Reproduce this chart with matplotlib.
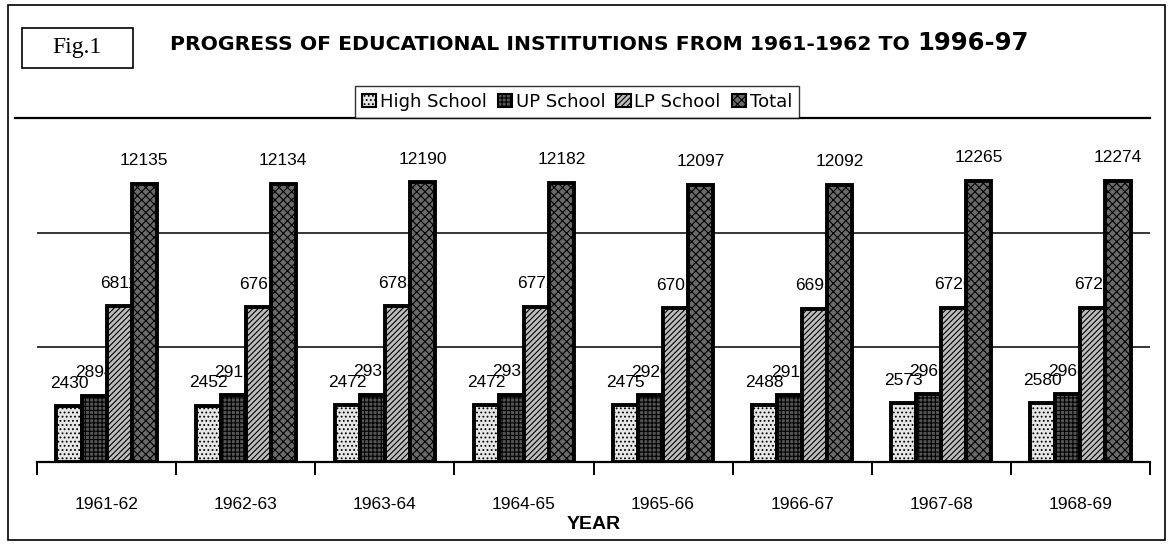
import matplotlib.pyplot as plt
import numpy as np
from matplotlib.patches import Rectangle

plt.rcParams['font.family'] = ['Liberation Sans', 'DejaVu Sans']
plt.rcParams['hatch.linewidth'] = 0.8

# data
years = ['1961-62', '1962-63', '1963-64', '1964-65', '1965-66', '1966-67', '1967-68', '1968-69']
high_school = [2430, 2452, 2472, 2472, 2475, 2488, 2573, 2580]
up_school = [2894, 2915, 2935, 2938, 2920, 2911, 2966, 2968]
lp_school = [6811, 6767, 6783, 6772, 6702, 6693, 6726, 6726]
total = [12135, 12134, 12190, 12182, 12097, 12092, 12265, 12274]
series_names = ['High School', 'UP School', 'LP School', 'Total']

series = [high_school, up_school, lp_school, total]
faces = ['#e6e6e6', '#555555', '#bdbdbd', '#6a6a6a']
hatches = ['....', '++++', '//////', 'xxxx']

W, H = 1176, 547
fig = plt.figure(figsize=(W / 100, H / 100), dpi=100)
ax = fig.add_axes([37 / W, 1 - 462 / H, (1150 - 37) / W, (462 - 118) / H])

x = np.arange(len(years))
width = 0.18
offsets = [-1.5, -0.5, 0.5, 1.5]
handles = []
for i, (vals, off) in enumerate(zip(series, offsets)):
    bars = ax.bar(x + off * width, vals, width, color=faces[i], hatch=hatches[i],
                  edgecolor='black', linewidth=2.8, zorder=3 + 2 * i,
                  label=series_names[i])
    handles.append(bars)
    # labels drawn under the next series' bars, as in the scan
    for xi, v in zip(x, vals):
        ax.annotate('{}'.format(v), (xi + off * width, v), textcoords='offset points',
                    xytext=(0, 11), ha='center', va='bottom', fontsize=12.5,
                    zorder=4 + 2 * i)

ax.set_xlim(-0.5, len(years) - 0.5)
ax.set_ylim(0, 15000)

# gridlines
for g in [5000, 10000]:
    ax.axhline(g, color='black', linewidth=1.1, zorder=1)

for s in ['top', 'right', 'left']:
    ax.spines[s].set_visible(False)
ax.spines['bottom'].set_linewidth(1.6)
ax.set_yticks([])

# ticks at category boundaries, labels at centers
ax.set_xticks(np.arange(-0.5, len(years)), labels=[])
ax.tick_params(axis='x', which='major', length=9, width=1.4, direction='out')
ax.set_xticks(x, minor=True)
ax.set_xticklabels(years, minor=True, fontsize=12.5)
ax.tick_params(axis='x', which='minor', length=0, pad=25)

ax.set_xlabel('YEAR', fontsize=14, fontweight='bold', labelpad=3)

# top line of the plot region
fig.add_artist(plt.Line2D([15 / W, 1150 / W], [1 - 118 / H, 1 - 118 / H],
                          color='black', linewidth=1.6))

# outer frame
fig.add_artist(Rectangle((8 / W, 1 - 540 / H), (1165 - 8) / W, (540 - 5) / H,
                         transform=fig.transFigure, fill=False,
                         edgecolor='black', linewidth=1.2))

# Fig.1 box
fig.add_artist(Rectangle((22 / W, 1 - 68 / H), (133 - 22) / W, (68 - 28) / H,
                         transform=fig.transFigure, fill=False,
                         edgecolor='black', linewidth=1.2))
fig.text(77 / W, 1 - 48 / H, 'Fig.1', ha='center', va='center', fontsize=17,
         family=['Liberation Serif', 'DejaVu Serif'])

# title, last part a bit larger
t1 = fig.text(170 / W, 1 - 45 / H, 'PROGRESS OF EDUCATIONAL INSTITUTIONS FROM 1961-1962 TO ',
              ha='left', va='center', fontsize=14.7, fontweight='bold',
              family='DejaVu Sans')
fig.canvas.draw()
bb = t1.get_window_extent()
fig.text(bb.x1 / W, 1 - 43 / H, '1996-97', ha='left', va='center',
         fontsize=17.5, fontweight='bold', family='DejaVu Sans')

leg = fig.legend(handles=handles, loc='lower center', bbox_to_anchor=(577 / W, 1 - 118 / H),
                 ncol=4, frameon=True, fancybox=False,
                 prop={'family': 'DejaVu Sans', 'size': 13},
                 handlelength=0.8, handleheight=0.8, handletextpad=0.2,
                 columnspacing=0.6, borderpad=0.4, borderaxespad=0)
leg.get_frame().set_edgecolor('black')
leg.get_frame().set_linewidth(1.0)
for p in leg.get_patches():
    p.set_linewidth(1.5)

fig.savefig('out.png', dpi=100)
